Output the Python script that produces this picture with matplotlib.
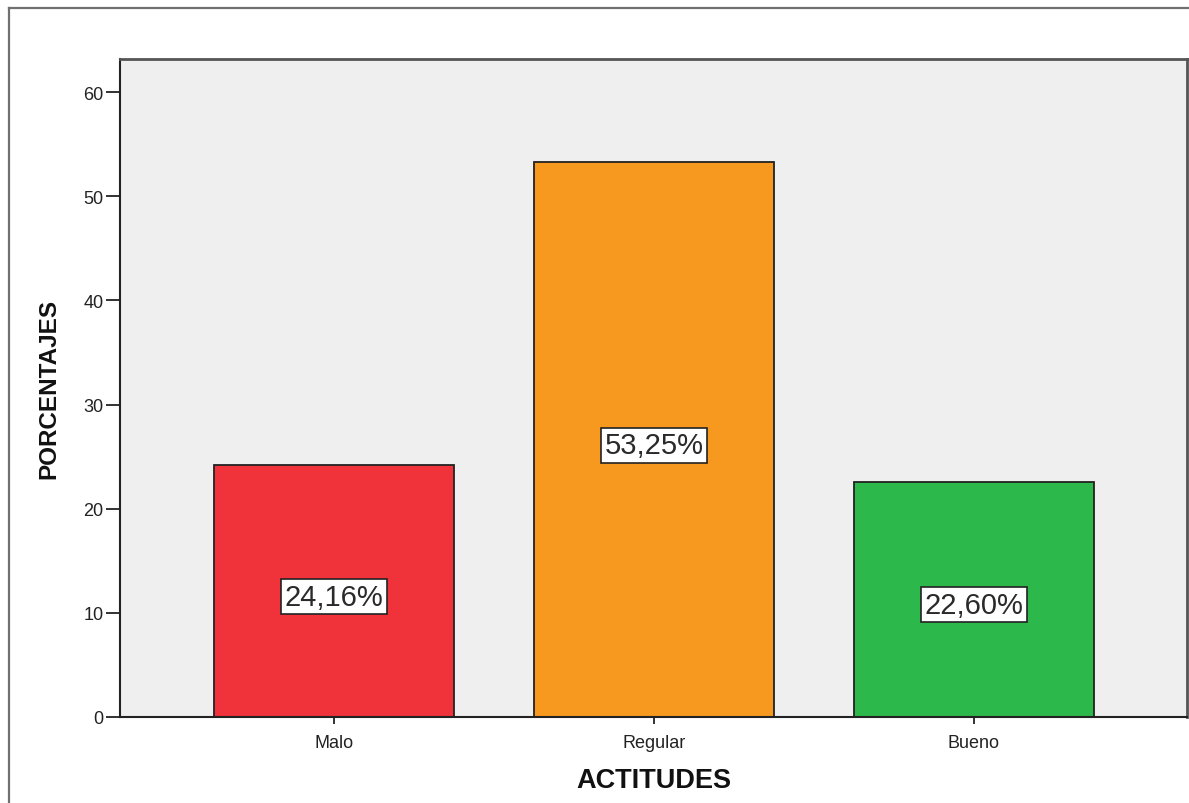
import matplotlib
matplotlib.use("Agg")
import matplotlib.pyplot as plt
from matplotlib.lines import Line2D

categories = ["Malo", "Regular", "Bueno"]
values = [24.16, 53.25, 22.60]
labels = ["24,16%", "53,25%", "22,60%"]
colors = ["#F0323A", "#F7991F", "#2DB84B"]
yticks = [0, 10, 20, 30, 40, 50, 60]

plt.rcParams['font.family'] = ['Liberation Sans', 'DejaVu Sans']

W, H = 1189, 804
fig = plt.figure(figsize=(W / 100, H / 100), dpi=100)
fig.patch.set_facecolor("white")

# outer frame
fig.add_artist(Line2D([9 / W, 1.0], [1 - 9 / H, 1 - 9 / H], transform=fig.transFigure,
                      color="#707070", lw=1.6))
fig.add_artist(Line2D([9 / W, 9 / W], [0, 1 - 9 / H], transform=fig.transFigure,
                      color="#707070", lw=1.6))

ax = fig.add_axes([120 / W, (H - 718) / H, (1187 - 120) / W, (718 - 60) / H])
ax.set_facecolor("#EFEFEF")

x = list(range(len(categories)))
bars = ax.bar(x, values, width=0.75, color=colors, edgecolor="#222222", linewidth=1.3, zorder=2)

for xi, v, lab in zip(x, values, labels):
    ax.annotate(lab, xy=(xi, v / 2), xytext=(0, -4), textcoords="offset points",
                ha="center", va="center", fontsize=21, color="#2a2a2a",
                bbox=dict(boxstyle="square,pad=0.12", facecolor="white", edgecolor="#222222", linewidth=1.2),
                zorder=3)

ax.set_xlim(-0.669, 2.666)
ax.set_ylim(0, 63.17)
ax.set_yticks(yticks)
ax.set_xticks(x)
ax.set_xticklabels(categories)
ax.tick_params(axis="y", direction="out", length=10, width=1.3, color="#222222",
               labelsize=13, labelcolor="#222222", pad=2)
ax.tick_params(axis="x", direction="out", length=5, width=1.3, color="#222222",
               labelsize=13, labelcolor="#222222", pad=7)

for s in ["left", "bottom"]:
    ax.spines[s].set_color("#222222")
    ax.spines[s].set_linewidth(1.5)
for s in ["top", "right"]:
    ax.spines[s].set_color("#555555")
    ax.spines[s].set_linewidth(2.0)

ax.set_ylabel("PORCENTAJES", fontsize=17.5, fontweight="bold", color="#111111", labelpad=16)
ax.set_xlabel("ACTITUDES", fontsize=19.5, fontweight="bold", color="#111111", labelpad=12)

fig.savefig("out.png", dpi=100)
